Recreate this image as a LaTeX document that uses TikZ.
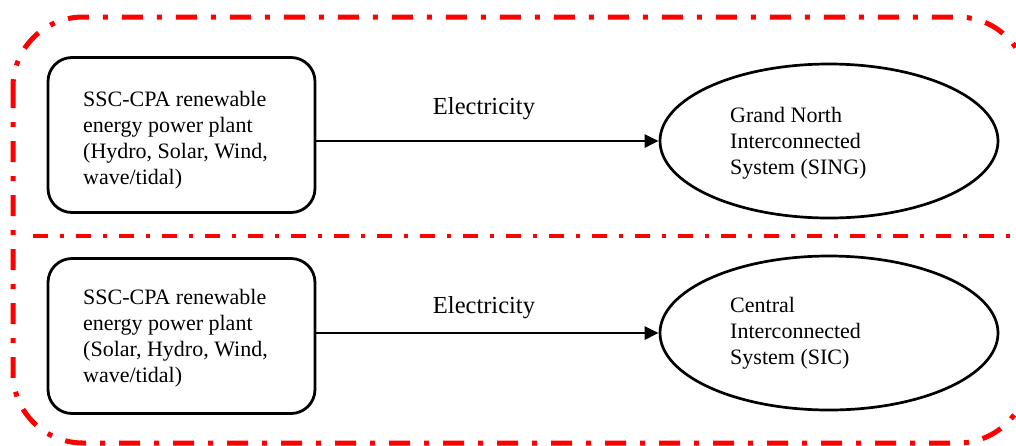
\documentclass[tikz,border=0pt]{standalone}
\usepackage{fontspec}
\setmainfont{Liberation Serif}
\usetikzlibrary{shapes.geometric,arrows.meta}
\begin{document}
\begin{tikzpicture}[x=1pt,y=-1pt,
  outerdash/.style={draw=red,line width=5pt,dash pattern=on 21pt off 14pt on 5pt off 14pt,rounded corners=70pt},
  middash/.style={draw=red,line width=4pt,dash pattern=on 15pt off 12pt on 4pt off 12pt},
  plantbox/.style={draw,line width=2.8pt,rounded corners=24pt,minimum width=267pt,minimum height=155pt,inner sep=0pt},
  sysell/.style={draw,ellipse,line width=2.7pt,minimum width=338pt,minimum height=154pt,inner sep=0pt},
  bodytext/.style={align=left,inner sep=0pt,font=\fontsize{22}{26}\selectfont},
  flow/.style={line width=2.8pt,-{Triangle[length=14pt,width=13pt]}},
  flowlabel/.style={inner sep=0pt,font=\fontsize{24.5}{28}\selectfont}]
\useasboundingbox (0,0) rectangle (1016,445);
\draw[outerdash] (13,17) rectangle (1028,443);
\coordinate (midL) at (33,236);
\coordinate (midR) at (1030,236);
\draw[middash] (midL) -- (midR);
\node[plantbox] (p1) at (181.5,135) {};
\node[plantbox] (p2) at (181.5,336) {};
\node[bodytext,anchor=west] (t1) at (83,140) {SSC-CPA renewable\\energy power plant\\(Hydro, Solar, Wind,\\wave/tidal)};
\node[bodytext,anchor=west] (t2) at (83,338) {SSC-CPA renewable\\energy power plant\\(Solar, Hydro, Wind,\\wave/tidal)};
\node[sysell] (s1) at (829,141) {};
\node[sysell] (s2) at (829,333) {};
\node[bodytext,anchor=west] (u1) at (730,143) {Grand North\\Interconnected\\System (SING)};
\node[bodytext,anchor=west] (u2) at (730,333) {Central\\Interconnected\\System (SIC)};
\draw[flow] (p1.east |- s1.west) -- (s1.west);
\draw[flow] (p2.east |- s2.west) -- (s2.west);
\node[flowlabel] (e1) at (484,109) {Electricity};
\node[flowlabel] (e2) at (484,308) {Electricity};
\end{tikzpicture}
\end{document}
